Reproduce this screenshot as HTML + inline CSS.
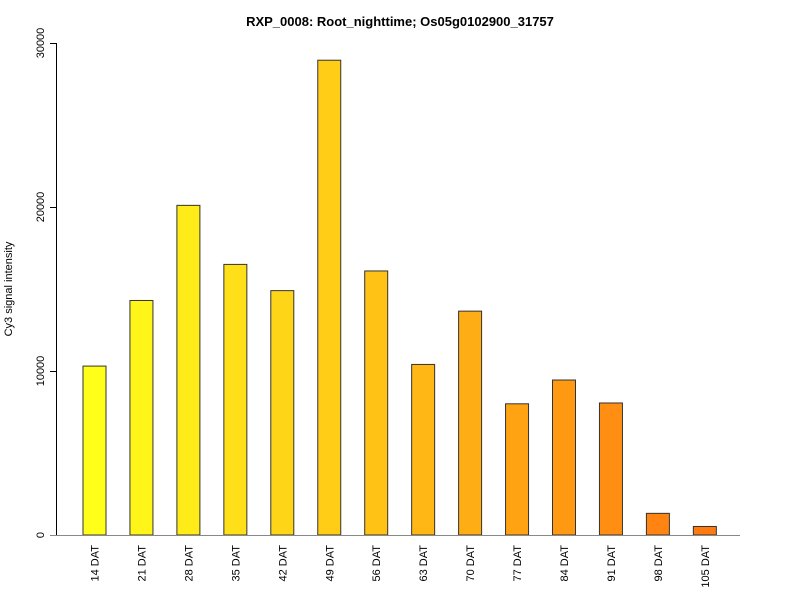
<!DOCTYPE html>
<html><head><meta charset="utf-8"><style>
body{margin:0;background:#fff}
svg text{font-family:"Liberation Sans",sans-serif}
</style></head><body>
<svg id="chart" width="800" height="600" xmlns="http://www.w3.org/2000/svg">
<text x="400" y="26" text-anchor="middle" font-size="13" font-weight="bold">RXP_0008: Root_nighttime; Os05g0102900_31757</text>
<text transform="translate(12,289) rotate(-90)" text-anchor="middle" font-size="11">Cy3 signal intensity</text>
<g id="yaxis"></g>
<g id="bars"></g>
<line x1="50" x2="740" y1="535.5" y2="535.5" stroke="#888" stroke-width="1"/>
<g id="xlabels"></g>
</svg>
<script>
const categories=["14 DAT","21 DAT","28 DAT","35 DAT","42 DAT","49 DAT","56 DAT","63 DAT","70 DAT","77 DAT","84 DAT","91 DAT","98 DAT","105 DAT"];
const values=[10300,14300,20100,16500,14900,28950,16100,10400,13650,8000,9450,8050,1320,520];
const yTicks=[0,10000,20000,30000];
const NS="http://www.w3.org/2000/svg";
const y=v=>535-v*492/30000;
const x=i=>94.5+i*46.95;
function mk(t,a){const e=document.createElementNS(NS,t);for(const k in a)e.setAttribute(k,a[k]);return e;}
const ya=document.getElementById('yaxis');
const ax=mk('line',{x1:56.5,x2:56.5,y1:y(0),y2:y(30000),stroke:'#000'});


ya.appendChild(ax);
yTicks.forEach(t=>{
  const l=mk('line',{x1:50,x2:56.5,y1:y(t)+0.5,y2:y(t)+0.5,stroke:'#000'});
  
  
  ya.appendChild(l);
  const tx=mk('text',{transform:`translate(44,${y(t)}) rotate(-90)`,'text-anchor':'middle','font-size':11});
  
  
  tx.textContent=t;ya.appendChild(tx);
});
const bg=document.getElementById('bars'),xl=document.getElementById('xlabels');
const n=categories.length;
values.forEach((v,i)=>{
  const f=i/(n-1);
  const g=Math.round(255-f*(255-122)),b=Math.round(26-f*10);
  const r=mk('rect',{x:x(i)-11.5,y:y(v),width:23,height:535-y(v),fill:`rgb(255,${g},${b})`,stroke:'#333','stroke-width':1});
  
  
  bg.appendChild(r);
  const t=mk('text',{transform:`translate(${x(i)+4},545) rotate(-90)`,'text-anchor':'end','font-size':11});
  
  
  t.textContent=categories[i];xl.appendChild(t);
});
</script>
</body></html>
